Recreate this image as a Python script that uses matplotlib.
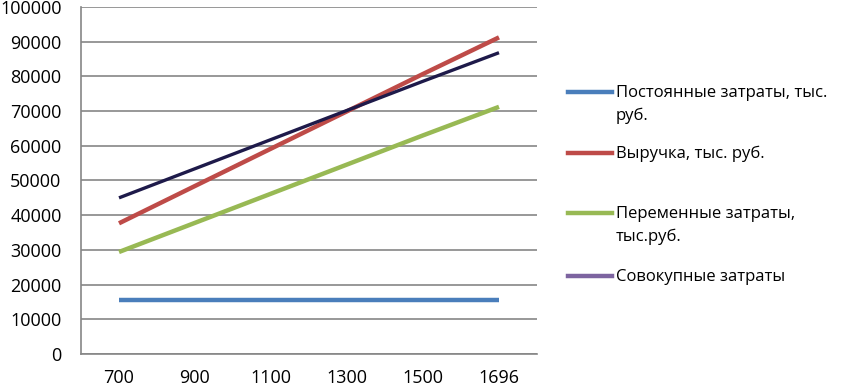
import matplotlib
matplotlib.use('Agg')
import matplotlib.pyplot as plt
from matplotlib.lines import Line2D

plt.rcParams['font.family'] = ['Open Sans', 'DejaVu Sans']

# --- данные ---
volumes = ['700', '900', '1100', '1300', '1500', '1696']
fixed_costs = [15600, 15600, 15600, 15600, 15600, 15600]
revenue = [37660, 48420, 59180, 69940, 80700, 91245]
variable_costs = [29400, 37800, 46200, 54600, 63000, 71230]
total_costs = [45000, 53400, 61800, 70200, 78600, 86830]

labels = ['Постоянные затраты, тыс.\nруб.',
          'Выручка, тыс. руб.',
          'Переменные затраты,\nтыс.руб.',
          'Совокупные затраты']
line_colors = ['#4A7EBB', '#BE4B48', '#98B954', '#1E1A4A']
legend_colors = ['#4A7EBB', '#BE4B48', '#98B954', '#7D64A0']
widths = [3.2, 3.2, 3.2, 2.4]
series = [fixed_costs, revenue, variable_costs, total_costs]

fig = plt.figure(figsize=(8.41, 3.89), dpi=100)
ax = fig.add_axes([81 / 841, 35 / 389, 456 / 841, 347 / 389])

x = range(len(volumes))
for vals, c, w in zip(series, line_colors, widths):
    ax.plot(x, vals, color=c, linewidth=w, solid_capstyle='butt')

ax.set_xlim(-0.5, len(volumes) - 0.5)
ax.set_ylim(0, 100000)
ax.set_yticks(range(0, 100001, 10000))
ax.set_xticks(list(x))
ax.set_xticklabels(volumes)
ax.tick_params(axis='both', length=0, labelsize=13)
ax.tick_params(axis='y', pad=14)
ax.tick_params(axis='x', pad=11)
ax.yaxis.grid(True, color='#868686', linewidth=1.2)
ax.set_axisbelow(True)
for s in ['top', 'right']:
    ax.spines[s].set_visible(False)
for s in ['left', 'bottom']:
    ax.spines[s].set_color('#868686')
    ax.spines[s].set_linewidth(1.2)

# --- легенда ---
legend_y = [92, 153, 213, 276]
for lab, c, yy in zip(labels, legend_colors, legend_y):
    yf = 1 - yy / 389
    fig.add_artist(Line2D([568 / 841, 612 / 841], [yf, yf], color=c,
                          linewidth=3.2, transform=fig.transFigure))
    fig.text(616 / 841, yf + 7 / 389, lab, fontsize=12, va='top',
             ha='left', linespacing=1.5, transform=fig.transFigure)

fig.savefig('out.png', dpi=100)
